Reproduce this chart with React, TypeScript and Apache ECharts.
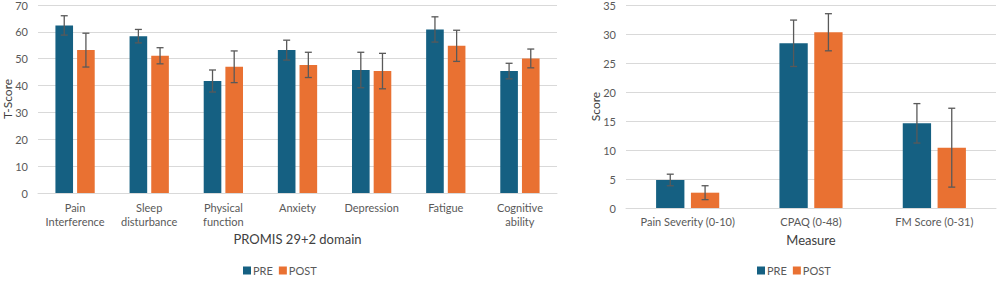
import React, { useEffect, useRef } from "react";
import * as echarts from "echarts";

const promisCategories = ["Pain\nInterference", "Sleep\ndisturbance", "Physical\nfunction", "Anxiety", "Depression", "Fatigue", "Cognitive\nability"];
const promisPre = [62.4, 58.4, 41.7, 53.2, 45.8, 60.9, 45.4];
const promisPreErr = [3.6, 2.5, 4.1, 3.7, 6.6, 4.7, 2.9];
const promisPost = [53.2, 51.1, 47.0, 47.7, 45.4, 54.8, 50.1];
const promisPostErr = [6.3, 3.0, 5.9, 4.7, 6.6, 5.8, 3.5];

const measureCategories = ["Pain Severity (0-10)", "CPAQ (0-48)", "FM Score (0-31)"];
const measurePre = [4.83, 28.4, 14.6];
const measurePreErr = [1.0, 4.0, 3.4];
const measurePost = [2.64, 30.3, 10.4];
const measurePostErr = [1.2, 3.2, 6.8];

const PRE_COLOR = "#156082";
const POST_COLOR = "#E97132";
const TEXT = "#595959";
const GRID = "#d9d9d9";
const FONT = "Lato";

function errSeries(means: number[], errs: number[], axis: number, side: number, cg: number, bg: number) {
  return {
    type: "custom",
    xAxisIndex: axis,
    yAxisIndex: axis,
    silent: true,
    z: 5,
    data: means.map((m, i) => [i, m, errs[i]]),
    renderItem: (params: any, api: any) => {
      const idx = api.value(0);
      const m = api.value(1);
      const e = api.value(2);
      const band = api.size([1, 0])[0];
      const bw = (band * (1 - cg)) / (2 + bg);
      const off = (bw * (1 + bg)) / 2;
      const c = api.coord([idx, m]);
      const x = c[0] + side * off;
      const top = api.coord([idx, m + e])[1];
      const bot = api.coord([idx, m - e])[1];
      const cap = 3.5;
      const style = { stroke: "#595959", lineWidth: 1.3 };
      return {
        type: "group",
        children: [
          { type: "line", shape: { x1: x, y1: top, x2: x, y2: bot }, style },
          { type: "line", shape: { x1: x - cap, y1: top, x2: x + cap, y2: top }, style },
          { type: "line", shape: { x1: x - cap, y1: bot, x2: x + cap, y2: bot }, style },
        ],
      };
    },
  };
}

export default function App() {
  const ref = useRef<HTMLDivElement>(null);
  useEffect(() => {
    if (!ref.current) return;
    const chart = echarts.init(ref.current, undefined, { renderer: "svg" });
    const axisLabel = { color: TEXT, fontFamily: FONT, fontSize: 11 };
    const catAxis = (idx: number, data: string[], name: string, nameGap: number, margin: number, lh: number) => ({
      type: "category",
      gridIndex: idx,
      data,
      axisTick: { show: false },
      axisLine: { lineStyle: { color: GRID, width: 1 } },
      axisLabel: { ...axisLabel, margin, lineHeight: lh, interval: 0 },
      name,
      nameLocation: "middle",
      nameGap,
      nameMoveOverlap: false,
      nameTextStyle: { color: "#404040", fontFamily: FONT, fontSize: 13 },
    });
    const valAxis = (idx: number, max: number, interval: number, name: string, nameGap: number) => ({
      type: "value",
      gridIndex: idx,
      min: 0,
      max,
      interval,
      axisLine: { show: false },
      axisTick: { show: false },
      splitLine: { lineStyle: { color: GRID, width: 1 } },
      axisLabel: { ...axisLabel, margin: 10 },
      name,
      nameLocation: "middle",
      nameGap,
      nameMoveOverlap: false,
      nameTextStyle: { color: "#404040", fontFamily: FONT, fontSize: 12 },
    });
    const legendBase = {
      data: ["PRE", "POST"],
      top: 265,
      padding: 0,
      itemWidth: 8,
      itemHeight: 8,
      itemGap: 6,
      icon: "rect",
      textStyle: { color: TEXT, fontFamily: FONT, fontSize: 11, padding: [0, 0, 0, -3] },
    };
    const leftCG = 0.47, leftBG = 0.23;
    const rightCG = 0.488, rightBG = 0.23;
    chart.setOption({
      animation: false,
      textStyle: { fontFamily: FONT },
      grid: [
        { left: 38, top: 5, width: 519, height: 188, outerBoundsMode: "none", containLabel: false },
        { left: 626, top: 5, width: 370, height: 203, outerBoundsMode: "none", containLabel: false },
      ],
      legend: [
        { ...legendBase, left: 243 },
        { ...legendBase, left: 757 },
      ],
      xAxis: [
        catAxis(0, promisCategories, "PROMIS 29+2 domain", 39, 7, 14.5),
        catAxis(1, measureCategories, "Measure", 25, 6, 14.5),
      ],
      yAxis: [
        valAxis(0, 70, 10, "T-Score", 25),
        valAxis(1, 35, 5, "Score", 25),
      ],
      series: [
        {
          name: "PRE", type: "bar", xAxisIndex: 0, yAxisIndex: 0, data: promisPre,
          itemStyle: { color: PRE_COLOR }, barCategoryGap: leftCG * 100 + "%", barGap: leftBG * 100 + "%",
        },
        {
          name: "POST", type: "bar", xAxisIndex: 0, yAxisIndex: 0, data: promisPost,
          itemStyle: { color: POST_COLOR }, barCategoryGap: leftCG * 100 + "%", barGap: leftBG * 100 + "%",
        },
        {
          name: "PRE", type: "bar", xAxisIndex: 1, yAxisIndex: 1, data: measurePre,
          itemStyle: { color: PRE_COLOR }, barCategoryGap: rightCG * 100 + "%", barGap: rightBG * 100 + "%",
        },
        {
          name: "POST", type: "bar", xAxisIndex: 1, yAxisIndex: 1, data: measurePost,
          itemStyle: { color: POST_COLOR }, barCategoryGap: rightCG * 100 + "%", barGap: rightBG * 100 + "%",
        },
        errSeries(promisPre, promisPreErr, 0, -1, leftCG, leftBG),
        errSeries(promisPost, promisPostErr, 0, 1, leftCG, leftBG),
        errSeries(measurePre, measurePreErr, 1, -1, rightCG, rightBG),
        errSeries(measurePost, measurePostErr, 1, 1, rightCG, rightBG),
      ],
    });
    return () => chart.dispose();
  }, []);
  return (
    <div
      ref={ref}
      style={{ position: "fixed", left: 0, top: 0, width: 1002, height: 284, background: "#fff" }}
    />
  );
}
